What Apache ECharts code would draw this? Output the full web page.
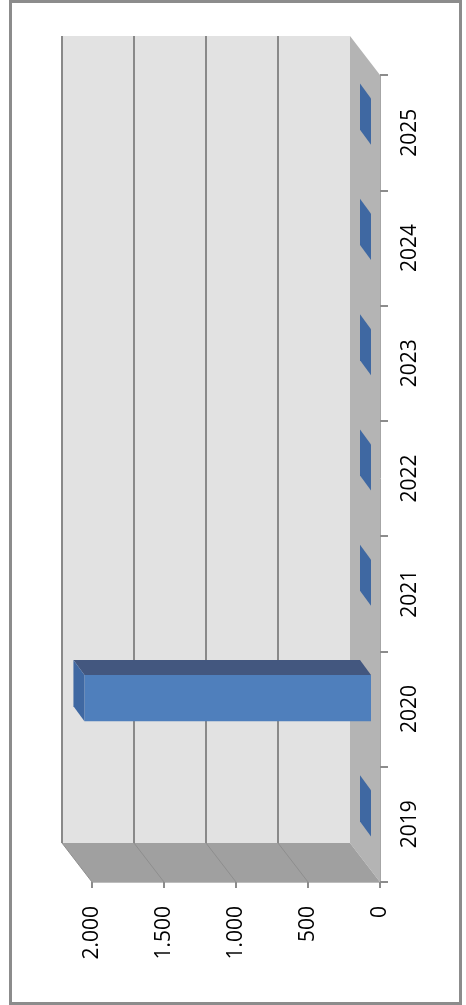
<!DOCTYPE html>
<html>
<head>
<meta charset="utf-8">
<script src="https://cdn.jsdelivr.net/npm/echarts@6/dist/echarts.min.js"></script>
<style>
  html, body { margin: 0; padding: 0; background: #ffffff; }
  #chart { width: 466px; height: 1005px; }
</style>
</head>
<body>
<div id="chart"></div>
<script>
// ---- data ----
const years = ['2019', '2020', '2021', '2022', '2023', '2024', '2025'];
const values = [0, 1990, 0, 0, 0, 0, 0];
const valueTicks = [0, 500, 1000, 1500, 2000];

// ---- style constants ----
const FONT = 'Open Sans';
const DEPTH = [-30, -39];      // full depth offset of the 3D box
const BAR_FRONT = [-9, -11];   // bar front plane offset
const BAR_BACK = [-20, -26];   // bar back plane offset

function fmt(v) {
  return String(v).replace(/\B(?=(\d{3})+(?!\d))/g, '.');
}

function renderWalls(params, api) {
  const cs = params.coordSys;
  const x0 = cs.x, x1 = cs.x + cs.width, y0 = cs.y, y1 = cs.y + cs.height;
  const dx = DEPTH[0], dy = DEPTH[1];
  const children = [
    { type: 'rect', shape: { x: x0 + dx, y: y0 + dy, width: x1 - x0, height: y1 - y0 },
      style: { fill: '#e2e2e2' } },
    { type: 'polygon', shape: { points: [[x1 + dx, y0 + dy], [x1, y0], [x1, y1], [x1 + dx, y1 + dy]] },
      style: { fill: '#b4b4b4' } },
    { type: 'polygon', shape: { points: [[x0 + dx, y1 + dy], [x1 + dx, y1 + dy], [x1, y1], [x0, y1]] },
      style: { fill: '#a0a0a0' } }
  ];
  valueTicks.forEach(function (t) {
    const gx = api.coord([t, 0])[0];
    if (t !== 0) {
      children.push({ type: 'line', shape: { x1: gx + dx, y1: y0 + dy, x2: gx + dx, y2: y1 + dy },
        style: { stroke: '#898989', lineWidth: 2 } });
      children.push({ type: 'line', shape: { x1: gx + dx, y1: y1 + dy, x2: gx, y2: y1 },
        style: { stroke: '#8e8e8e', lineWidth: 1 } });
    }
  });
  return { type: 'group', children: children };
}

function renderBar(params, api) {
  const v = api.value(0), c = api.value(1);
  const base = api.coord([0, c]);
  const end = api.coord([v, c]);
  const bw = api.size([0, 1])[1];
  const h = bw * 0.2;
  const yt = base[1] - h, yb = base[1] + h;
  const xl = end[0], xr = base[0];
  const F = BAR_FRONT, B = BAR_BACK;
  const children = [];
  if (xr - xl > 0.5) {
    children.push({ type: 'polygon',
      shape: { points: [[xl + F[0], yt + F[1]], [xr + F[0], yt + F[1]], [xr + F[0], yb + F[1]], [xl + F[0], yb + F[1]]] },
      style: { fill: '#4f7fbc' } });
    children.push({ type: 'polygon',
      shape: { points: [[xl + F[0], yt + F[1]], [xr + F[0], yt + F[1]], [xr + B[0], yt + B[1]], [xl + B[0], yt + B[1]]] },
      style: { fill: '#43577f' } });
  }
  children.push({ type: 'polygon',
    shape: { points: [[xl + F[0], yt + F[1]], [xl + B[0], yt + B[1]], [xl + B[0], yb + B[1]], [xl + F[0], yb + F[1]]] },
    style: { fill: '#3f68a2' } });
  return { type: 'group', children: children };
}

const chart = echarts.init(document.getElementById('chart'), null, { renderer: 'canvas' });
chart.setOption({
  animation: false,
  backgroundColor: '#ffffff',
  grid: { left: 92, right: 86, top: 75, bottom: 123, containLabel: false },
  xAxis: {
    type: 'value', min: 0, max: 2000, interval: 500, inverse: true, position: 'bottom',
    axisLine: { show: true, lineStyle: { color: '#bdbdbd', width: 1 } },
    axisTick: { show: true, length: 6, lineStyle: { color: '#8c8c8c', width: 2 } },
    splitLine: { show: false },
    axisLabel: { rotate: 90, margin: 24, fontSize: 21, color: '#000', fontFamily: FONT, formatter: fmt }
  },
  yAxis: {
    type: 'category', data: years, position: 'right',
    axisLine: { show: true, lineStyle: { color: '#a6a6a6', width: 1 } },
    axisTick: { show: true, length: 8, lineStyle: { color: '#8c8c8c', width: 2 } },
    splitLine: { show: false },
    axisLabel: { rotate: 90, margin: 20, fontSize: 21, color: '#000', fontFamily: FONT }
  },
  graphic: [{
    type: 'rect', silent: true, z: 100,
    shape: { x: 10.5, y: 1.5, width: 450, height: 1002 },
    style: { fill: 'none', stroke: '#8c8c8c', lineWidth: 3 }
  }],
  series: [
    { type: 'custom', name: 'walls', z: 1, silent: true, renderItem: renderWalls,
      data: [[0, 0]], encode: { x: 0, y: 1 } },
    { type: 'custom', name: 'values', z: 2, renderItem: renderBar,
      data: values.map(function (v, i) { return [v, i]; }), encode: { x: 0, y: 1 } }
  ]
});
</script>
</body>
</html>
